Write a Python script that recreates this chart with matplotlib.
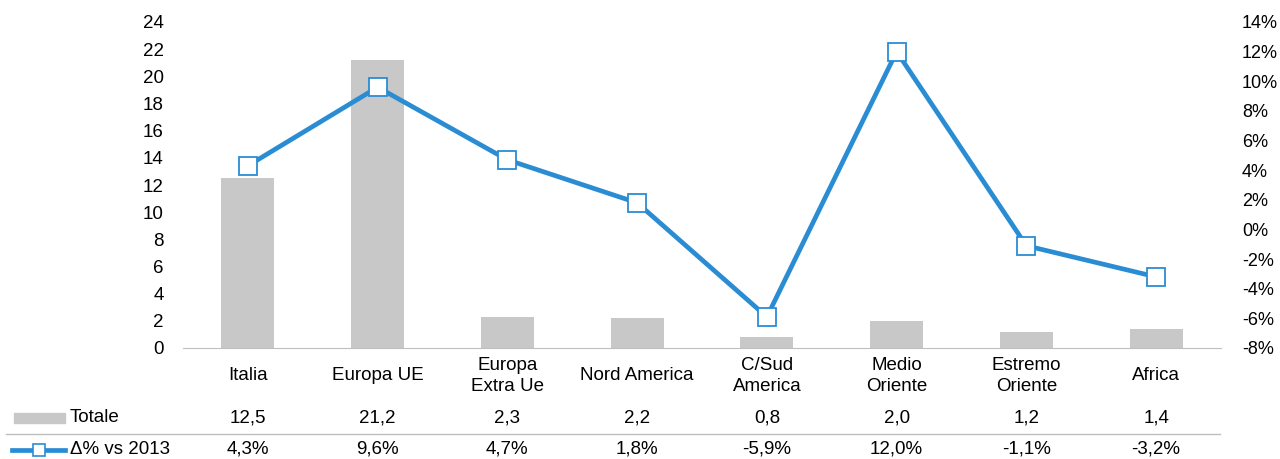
import numpy as np
import matplotlib.pyplot as plt
from matplotlib.lines import Line2D
from matplotlib.patches import Rectangle
import matplotlib.transforms as mtransforms

plt.rcParams['font.family'] = ['Liberation Sans', 'DejaVu Sans']

# data
categories = ['Italia', 'Europa UE', 'Europa\nExtra Ue', 'Nord America',
              'C/Sud\nAmerica', 'Medio\nOriente', 'Estremo\nOriente', 'Africa']
totale = [12.5, 21.2, 2.3, 2.2, 0.8, 2.0, 1.2, 1.4]
delta = [4.3, 9.6, 4.7, 1.8, -5.9, 12.0, -1.1, -3.2]
totale_labels = ['12,5', '21,2', '2,3', '2,2', '0,8', '2,0', '1,2', '1,4']
delta_labels = ['4,3%', '9,6%', '4,7%', '1,8%', '-5,9%', '12,0%', '-1,1%', '-3,2%']

bar_col = '#C8C8C8'
line_col = '#2A8DD4'
fs = 13.5

fig = plt.figure(figsize=(12.8, 4.59), dpi=100)
ax = fig.add_axes([183/1280, 1-348/459, (1221-183)/1280, (348-22)/459])
x = np.arange(len(categories))
ax.bar(x, totale, width=0.41, color=bar_col, zorder=1)
ax.set_xlim(-0.5, len(categories)-0.5)
ax.set_ylim(0, 24)
ax.set_yticks(np.arange(0, 25, 2))
ax.set_xticks([])
for s in ['top', 'right', 'left']:
    ax.spines[s].set_visible(False)
ax.spines['bottom'].set_color('#BFBFBF')
ax.tick_params(axis='y', length=0, labelsize=fs, pad=14)

ax2 = ax.twinx()
ax2.plot(x, delta, color=line_col, lw=3.4, marker='s', ms=13.5,
         mfc='white', mec=line_col, mew=1.3, zorder=3)
ax2.set_ylim(-8, 14)
ax2.set_yticks(np.arange(-8, 15, 2))
ax2.set_yticklabels([f'{v}%' for v in range(-8, 15, 2)])
for s in ['top', 'right', 'left', 'bottom']:
    ax2.spines[s].set_visible(False)
ax2.tick_params(axis='y', length=0, labelsize=13, pad=15)

# table under the axis
tr = mtransforms.blended_transform_factory(ax.transData, fig.transFigure)
for i in range(len(categories)):
    ax.text(x[i], 1-376/459, categories[i], transform=tr, ha='center', va='center',
            fontsize=fs, linespacing=1.35)
    ax.text(x[i], 1-418/459, totale_labels[i], transform=tr, ha='center', va='center',
            fontsize=fs)
    ax.text(x[i], 1-449/459, delta_labels[i], transform=tr, ha='center', va='center',
            fontsize=fs)

# row separator
fig.add_artist(Line2D([6/1280, 1220/1280], [1-434/459, 1-434/459],
                      transform=fig.transFigure, color='#BFBFBF', lw=1))

# legend keys
fig.add_artist(Rectangle((14/1280, 1-423/459), 51/1280, 10/459,
                         transform=fig.transFigure, color=bar_col))
fig.text(70/1280, 1-418/459, 'Totale', ha='left', va='center', fontsize=fs)
fig.add_artist(Line2D([12/1280, 65/1280], [1-450/459, 1-450/459],
                      transform=fig.transFigure, color=line_col, lw=3.4))
fig.add_artist(Line2D([39/1280], [1-450/459], transform=fig.transFigure,
                      marker='s', ms=8, mfc='white', mec=line_col, mew=1.2))
fig.text(70/1280, 1-449/459, '\u0394% vs 2013', ha='left', va='center', fontsize=fs)

fig.savefig('out.png', dpi=100)
